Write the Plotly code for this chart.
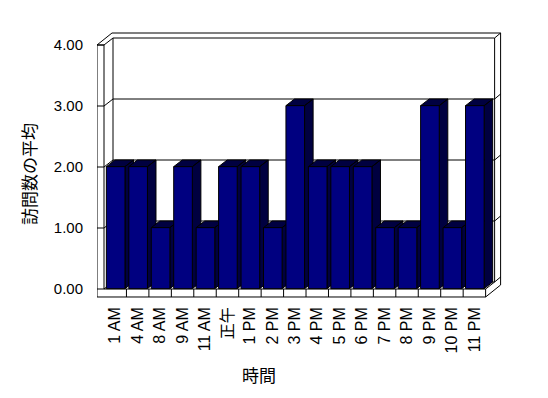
import plotly.graph_objects as go

# ---- data ----
categories = ["1 AM", "4 AM", "8 AM", "9 AM", "11 AM", "正午", "1 PM", "2 PM", "3 PM",
              "4 PM", "5 PM", "6 PM", "7 PM", "8 PM", "9 PM", "10 PM", "11 PM"]
values = [2, 2, 1, 2, 1, 2, 2, 1, 3, 2, 2, 2, 1, 1, 3, 1, 3]
y_ticks = [0, 1, 2, 3, 4]
y_tick_labels = ["0.00", "1.00", "2.00", "3.00", "4.00"]
x_title = "時間"
y_title = "訪問数の平均"

# ---- geometry / style (in axis units) ----
N = len(categories)
X0, X1 = -0.5, N - 0.5
Y0, Y1 = 0.0, 4.0
DX, DY = 0.401, 0.1148      # depth offset
W = 0.312                   # left wall thickness
F = 0.131                   # floor thickness
TX, TY = 0.267, 0.082       # back wall thickness
BW = 0.83                   # bar width
FD = 0.05                   # bar front depth fraction
FRONT = "#000080"
DARK = "#000040"
LINE = dict(color="black", width=1)

fig = go.Figure()

# ---- frame shapes ----
shapes = []

def path(pts, close=True, fill=None):
    d = "M " + " L ".join(f"{x},{y}" for x, y in pts)
    if close:
        d += " Z"
    s = dict(type="path", path=d, line=LINE, layer="below", xref="x", yref="y")
    if fill:
        s["fillcolor"] = fill
    return s

# outer outline
shapes.append(path([(X0 - W, Y0 - F), (X0 - W, Y1), (X0 - W + DX + TX, Y1 + DY + TY),
                    (X1 + DX + TX, Y1 + DY + TY), (X1 + DX + TX, Y0 - F + DY + TY),
                    (X1, Y0 - F)], fill="white"))
# back wall inner face
shapes.append(path([(X0 + DX, Y0 + DY), (X1 + DX, Y0 + DY), (X1 + DX, Y1 + DY), (X0 + DX, Y1 + DY)]))
# left wall front face / floor front face inner contour
shapes.append(path([(X0 - W, Y1), (X0, Y1), (X0, Y0), (X1, Y0), (X1, Y0 - F)], close=False))
# left wall top inner diagonal
shapes.append(path([(X0, Y1), (X0 + DX, Y1 + DY)], close=False))
# back wall top right diagonal
shapes.append(path([(X1 + DX, Y1 + DY), (X1 + DX + TX, Y1 + DY + TY)], close=False))
# floor top face side edges
shapes.append(path([(X0, Y0), (X0 + DX, Y0 + DY)], close=False))
shapes.append(path([(X1, Y0), (X1 + DX, Y0 + DY), (X1 + DX + TX, Y0 + DY + TY)], close=False))
# gridlines
for k in y_ticks:
    shapes.append(path([(X0 - W, k), (X0, k)], close=False))
    if Y0 < k < Y1:
        shapes.append(path([(X0, k), (X0 + DX, k + DY), (X1 + DX, k + DY),
                            (X1 + DX + TX, k + DY + TY)], close=False))
# floor category ticks
for i in range(N - 1):
    xb = i + 0.5
    shapes.append(path([(xb, Y0 - F), (xb, Y0)], close=False))

# ---- bars ----
for i, v in enumerate(values):
    xl = i - BW / 2 + FD * DX
    xr = i + BW / 2 + FD * DX
    yb = Y0 + FD * DY
    yt = v + FD * DY
    ddx = (1 - FD) * DX
    ddy = (1 - FD) * DY
    sx = [xr, xr, xr + ddx, xr + ddx, xr, None, xl, xr, xr + ddx, xl + ddx, xl]
    sy = [yb, yt, yt + ddy, yb + ddy, yb, None, yt, yt, yt + ddy, yt + ddy, yt]
    fig.add_trace(go.Scatter(x=sx, y=sy, mode="lines", fill="toself", fillcolor=DARK,
                             line=LINE, hoverinfo="skip", showlegend=False))
    fx = [xl, xr, xr, xl, xl]
    fy = [yb, yb, yt, yt, yb]
    fig.add_trace(go.Scatter(x=fx, y=fy, mode="lines", fill="toself", fillcolor=FRONT,
                             line=LINE, name=categories[i], showlegend=False))

font_main = "Liberation Sans, Arial, Noto Sans CJK JP, sans-serif"
font_cjk = "Noto Sans CJK JP, sans-serif"

# page body has an 8px default margin, so the figure is 540x390 offset by 8px
fig.update_layout(
    template="none",
    width=540, height=390,
    margin=dict(l=89, r=43, t=22, b=100, pad=0, autoexpand=False),
    paper_bgcolor="white", plot_bgcolor="white",
    shapes=shapes,
    showlegend=False,
    font=dict(family=font_main, size=15, color="black"),
    xaxis=dict(range=[X0 - W, X1 + 0.864], tickmode="array", automargin=False,
               tickvals=list(range(N)), ticktext=categories, tickangle=-90,
               showgrid=False, zeroline=False, showline=False, ticks="",
               ticklabelstandoff=5, fixedrange=True,
               tickfont=dict(family=font_main, size=16, color="black")),
    yaxis=dict(range=[-0.1475, 4.246], tickmode="array", tickvals=y_ticks, automargin=False,
               ticktext=y_tick_labels, showgrid=False, zeroline=False,
               showline=False, ticks="", ticklabelstandoff=13, fixedrange=True,
               tickfont=dict(family=font_main, size=15, color="black")),
    annotations=[
        dict(text=y_title, textangle=-90, x=-0.168, y=0.4646, xref="paper", yref="paper",
             xanchor="center", yanchor="middle", showarrow=False,
             font=dict(family=font_cjk, size=17, color="black")),
        dict(text=x_title, x=0.397, y=-0.287, xref="paper", yref="paper",
             xanchor="center", yanchor="middle", showarrow=False,
             font=dict(family=font_cjk, size=17, color="black")),
    ],
)

fig.write_html("out.html")
